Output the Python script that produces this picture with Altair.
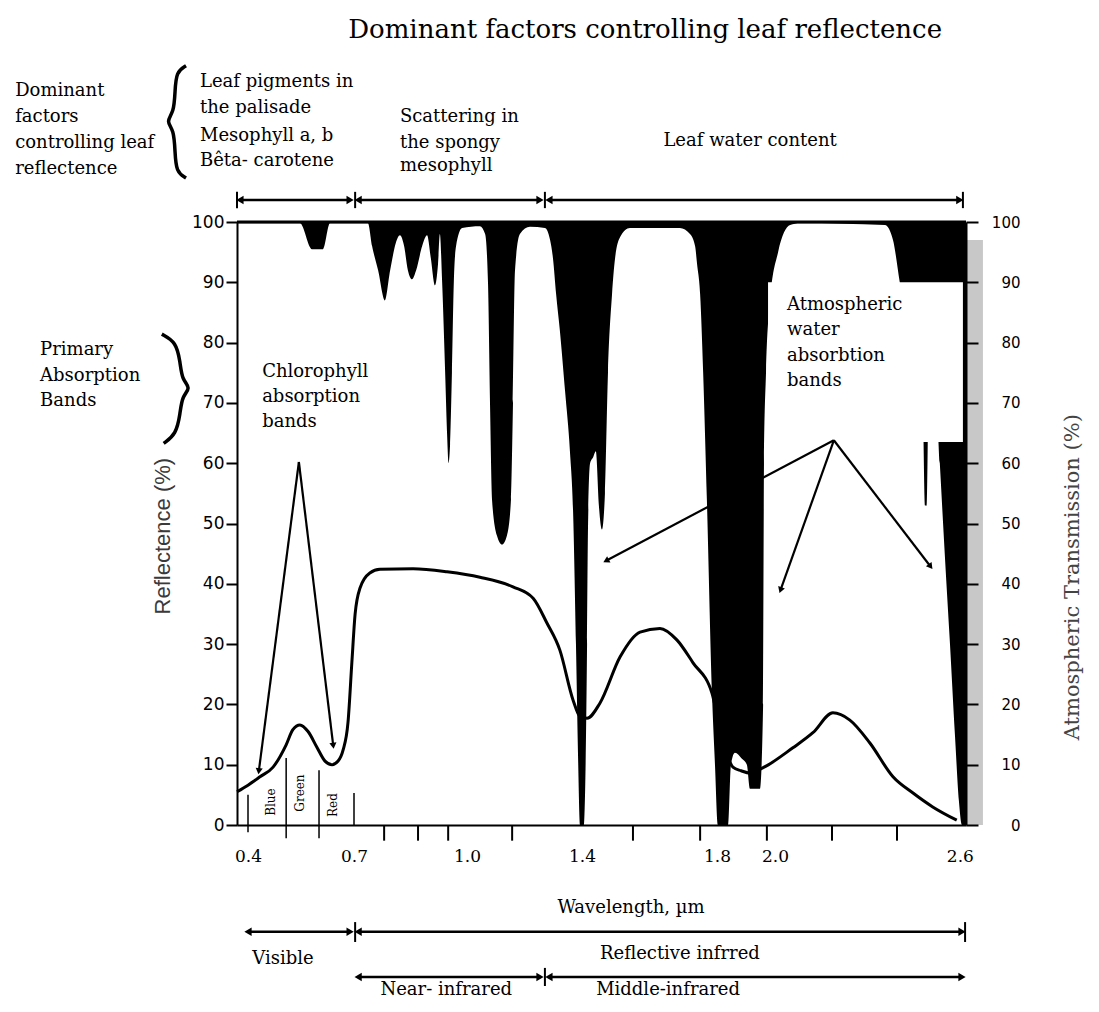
import altair as alt
import pandas as pd

# ---------------- data ----------------
# Leaf reflectance curve (wavelength in micrometres, reflectance in %)
leaf_wl = [0.37, 0.400, 0.434, 0.471, 0.508, 0.527, 0.547, 0.570, 0.595, 0.618,
           0.638, 0.655, 0.669, 0.683, 0.694, 0.703, 0.716, 0.742, 0.769, 0.857,
           0.947, 1.045, 1.160, 1.230, 1.278, 1.323, 1.369, 1.393, 1.415, 1.453,
           1.513, 1.572, 1.631, 1.681, 1.729, 1.785, 1.810, 1.855, 1.883, 1.914,
           1.959, 2.058, 2.123, 2.188, 2.243, 2.308, 2.383, 2.448, 2.512, 2.590]
leaf_refl = [5.5, 6.6, 8.0, 9.6, 13.3, 15.8, 16.6, 15.5, 12.9, 10.6,
             10.0, 10.6, 12.4, 17, 27, 35, 39.3, 41.8, 42.4, 42.5,
             42.0, 41.1, 39.5, 37.6, 33.5, 29, 20.7, 18, 17.7, 20.2,
             27.9, 32, 32.6, 30.7, 26.9, 21.9, 16, 9.6, 9, 8.6,
             9.5, 12.8, 15.3, 18.6, 17.4, 13.6, 8.0, 5.3, 3.0, 0.8]

# Atmospheric transmission (%) — black area is drawn from this curve up to 100 %
atm_wl = [0.370, 0.547, 0.581, 0.612, 0.632,
          0.737, 0.748, 0.764, 0.782, 0.796,
          0.811, 0.822, 0.833, 0.843, 0.854,
          0.865, 0.881, 0.894, 0.904, 0.915,
          0.923, 0.928, 0.934, 0.942, 0.947,
          0.951, 0.955, 0.960, 0.965, 0.971,
          0.987, 1.045, 1.063, 1.073, 1.080,
          1.087, 1.104, 1.122, 1.139, 1.153,
          1.160, 1.167, 1.184, 1.219, 1.271,
          1.289, 1.299, 1.310, 1.323, 1.341,
          1.358, 1.369, 1.379, 1.386, 1.393,
          1.406, 1.409, 1.415, 1.418, 1.424,
          1.433, 1.441, 1.450, 1.459, 1.468,
          1.477, 1.489, 1.498, 1.513, 1.542,
          1.690, 1.720, 1.735, 1.741, 1.750,
          1.759, 1.770, 1.785, 1.794, 1.803,
          1.838, 1.848, 1.862, 1.886, 1.903,
          1.914, 1.948, 1.959, 1.962, 1.969,
          1.983, 2.010, 2.049, 2.081, 2.357,
          2.383, 2.405, 2.438, 2.470, 2.480,
          2.487, 2.493, 2.500, 2.519, 2.535,
          2.551, 2.568, 2.584, 2.597, 2.607,
          2.620]
atm_T = [99.8, 99.8, 95.5, 95.5, 99.8,
         99.8, 96, 92, 87, 92,
         96.5, 97.8, 96, 92, 90.5,
         92, 96, 97.8, 94, 89.5,
         93, 98, 90, 75, 65,
         60, 63, 75, 90, 96,
         99, 99.3, 98, 90, 70,
         54, 48, 46.5, 48, 54,
         70, 92, 98, 99.2, 99,
         97, 94, 88, 82, 72,
         62, 52, 30, 12, 0,
         0, 5, 30, 50, 60,
         61, 62, 53, 49, 55,
         75, 88, 94, 97.5, 99,
         99, 98, 96, 93, 88,
         75, 54, 22, 10, 0,
         0, 10, 12, 11, 10,
         6, 6, 20, 60, 75,
         87, 95, 99.5, 99.8, 99.5,
         97, 90, 80, 80, 70,
         53, 53, 75, 75, 60,
         45, 30, 15, 4, 0,
         0]

x_tick_labels = [0.4, 0.7, 1.0, 1.4, 1.8, 2.0, 2.6]
x_minor_ticks = [0.78, 0.87, 0.95, 1.157, 1.551, 1.75, 1.972, 2.185, 2.396]
y_ticks = list(range(0, 101, 10))

# ---------------- scales & axes ----------------
SERIF = "DejaVu Serif"
SANS = "DejaVu Sans"

XS = alt.Scale(domain=[0.37, 0.4, 0.7, 1.0, 1.4, 1.8, 2.0, 2.62],
               range=[0, 11, 117, 230, 345, 480, 538, 729], nice=False, zero=False)
YS = alt.Scale(domain=[0, 100], nice=False, zero=False)

XAX = alt.Axis(values=x_tick_labels, format=".1f", ticks=False, tickSize=0, labelPadding=23,
               labelFont=SERIF, labelFontSize=17, labelColor="black", labelFlush=False,
               labelOverlap=False, domainColor="black", domainWidth=2, grid=False, title=None,
               zindex=1)
YLAX = alt.Axis(orient="left", values=y_ticks, tickSize=11, tickWidth=2, tickColor="black",
                labelFont=SANS, labelFontSize=17, labelColor="black", labelPadding=2,
                domainColor="black", domainWidth=2, grid=False, title=None, zindex=1)
YRAX = alt.Axis(orient="right", values=y_ticks, tickSize=12, tickWidth=2, tickColor="black",
                labelFont=SANS, labelFontSize=15, labelColor="black", labelAlign="right",
                labelPadding=42, domainColor="black", domainWidth=2, grid=False, title=None,
                zindex=1)


def xe(f):
    return alt.X(f"{f}:Q", scale=XS, axis=XAX, title=None)


def ye(f):
    return alt.Y(f"{f}:Q", scale=YS, axis=YRAX, title=None)


# ---------------- data tables ----------------
leaf_df = pd.DataFrame({"wl": leaf_wl, "refl": leaf_refl})
atm_df = pd.DataFrame({"wl": atm_wl, "T": atm_T})
atm_df["top"] = 100

# ---------------- annotation tables (data coordinates) ----------------
txt_left = pd.DataFrame([
    ("Dominant", -0.235, 121.7), ("factors", -0.235, 117.4),
    ("controlling leaf", -0.235, 113.1), ("reflectence", -0.235, 108.8),
    ("Leaf pigments in", 0.269, 123.2), ("the palisade", 0.269, 118.9),
    ("Mesophyll a, b", 0.269, 114.3), ("Bêta- carotene", 0.269, 110.1),
    ("Scattering in", 0.822, 117.4), ("the spongy", 0.822, 113.1), ("mesophyll", 0.822, 109.3),
    ("Primary", -0.167, 78.8), ("Absorption", -0.167, 74.5), ("Bands", -0.167, 70.3),
    ("Chlorophyll", 0.440, 75.1), ("absorption", 0.440, 71.0), ("bands", 0.440, 66.8),
    ("Atmospheric", 2.039, 86.2), ("water", 2.039, 82.1), ("absorbtion", 2.039, 77.8),
    ("bands", 2.039, 73.6),
], columns=["txt", "wl", "pct"])

txt_center = pd.DataFrame([
    ("Dominant factors controlling leaf reflectence", 1.587, 131.8, 26),
    ("Leaf water content", 1.914, 113.4, 18),
    ("Wavelength, µm", 1.545, -13.8, 18),
    ("Visible", 0.499, -22.2, 18),
    ("Reflective infrred", 1.690, -21.4, 18),
    ("Near- infrared", 0.945, -27.4, 18),
    ("Middle-infrared", 1.655, -27.4, 18),
], columns=["txt", "wl", "pct", "sz"])

txt_bands = pd.DataFrame([("Blue", 0.465, 3.8), ("Green", 0.547, 5.3), ("Red", 0.641, 3.3)],
                         columns=["txt", "wl", "pct"])

band_lines = pd.DataFrame([(0.400, 5.0, -1.2), (0.508, 11.1, -2.2), (0.601, 9.1, -2.2),
                           (0.700, 5.3, 0.0)], columns=["wl", "p1", "p2"])
minor_df = pd.DataFrame({"wl": x_minor_ticks, "p1": 0.0, "p2": -2.6})

bars = pd.DataFrame([(0.370, 105.0, 102.3), (0.703, 105.0, 102.3), (1.271, 105.0, 102.3),
                     (2.610, 105.0, 102.3), (0.703, -16.1, -19.4), (2.617, -16.1, -19.4),
                     (1.271, -23.7, -26.7)], columns=["wl", "p1", "p2"])

h_arrows = [("t1", 0.378, 0.689, 103.65), ("t2", 0.711, 1.254, 103.65), ("t3", 1.285, 2.600, 103.65),
            ("b1", 0.400, 0.689, -17.7), ("b2", 0.711, 2.607, -17.7),
            ("c1", 0.711, 1.254, -25.2), ("c2", 1.285, 2.607, -25.2)]
d_arrows = [("ch1", 0.544, 60.2, 0.431, 9.1, 187.4), ("ch2", 0.544, 60.2, 0.641, 13.3, 173.2),
            ("a1", 2.191, 63.8, 1.474, 43.9, 242.2), ("a2", 2.191, 63.8, 2.019, 39.1, 199.6),
            ("a3", 2.191, 63.8, 2.503, 43.0, 142.7)]

seg_rows, head_rows = [], []
for k, a, b, p in h_arrows:
    seg_rows += [(k, a, p, 0, 2.5), (k, b, p, 1, 2.5)]
    head_rows += [(a, p, "triangle-left", 0, 70), (b, p, "triangle-right", 0, 70)]
for k, a, p, b, q, ang in d_arrows:
    seg_rows += [(k, a, p, 0, 2.2), (k, b, q, 1, 2.2)]
    head_rows += [(b, q, "triangle", ang, 50)]
seg_df = pd.DataFrame(seg_rows, columns=["id", "wl", "pct", "o", "w"])
head_df = pd.DataFrame(head_rows, columns=["wl", "pct", "shp", "ang", "sz"])

brace_df = pd.DataFrame([
    ("b1", 0, 0.231, 125.9), ("b1", 1, 0.204, 124.9), ("b1", 2, 0.201, 121.6),
    ("b1", 3, 0.198, 118.2), ("b1", 4, 0.176, 116.7), ("b1", 5, 0.198, 115.3),
    ("b1", 6, 0.201, 111.6), ("b1", 7, 0.204, 108.3), ("b1", 8, 0.231, 107.3),
    ("b2", 0, 0.165, 81.4), ("b2", 1, 0.204, 80.1), ("b2", 2, 0.215, 76.8),
    ("b2", 3, 0.220, 73.8), ("b2", 4, 0.245, 72.5), ("b2", 5, 0.220, 71.1),
    ("b2", 6, 0.215, 68.2), ("b2", 7, 0.204, 64.8), ("b2", 8, 0.170, 63.3),
], columns=["id", "o", "wl", "pct"])

box_df = pd.DataFrame([(1.976, 2.610, 63.5, 90.0)], columns=["x1", "x2", "p1", "p2"])
shade_df = pd.DataFrame([(2.620, 2.675, 0.0, 97.0)], columns=["x1", "x2", "p1", "p2"])
top_df = pd.DataFrame([(0.37, 2.62, 100.0)], columns=["x1", "x2", "pct"])

rot_df = pd.DataFrame([("Reflectence (%)", 0.168, 47.9)], columns=["txt", "wl", "pct"])
rot_df2 = pd.DataFrame([("Atmospheric Transmission (%)", 2.968, 41.1)], columns=["txt", "wl", "pct"])

# ---------------- layers ----------------
leaf = alt.Chart(leaf_df).mark_line(color="black", strokeWidth=3, interpolate="monotone").encode(
    x=xe("wl"), y=alt.Y("refl:Q", scale=YS, axis=YLAX, title=None))

shade = alt.Chart(shade_df).mark_rect(fill="#c8c8c8").encode(
    x=xe("x1"), x2=alt.X2("x2:Q"), y=ye("p1"), y2=alt.Y2("p2:Q"))

area = alt.Chart(atm_df).mark_area(color="black", interpolate="monotone").encode(
    x=xe("wl"), y=ye("T"), y2=alt.Y2("top:Q"))

top_rule = alt.Chart(top_df).mark_rule(color="black", strokeWidth=3).encode(
    x=xe("x1"), x2=alt.X2("x2:Q"), y=ye("pct"))

box = alt.Chart(box_df).mark_rect(fill="white").encode(
    x=xe("x1"), x2=alt.X2("x2:Q"), y=ye("p1"), y2=alt.Y2("p2:Q"))

t_left = alt.Chart(txt_left).mark_text(align="left", baseline="middle", font=SERIF,
                                       fontSize=18, color="black").encode(
    x=xe("wl"), y=ye("pct"), text="txt:N")

t_center = alt.Chart(txt_center).mark_text(align="center", baseline="middle", font=SERIF,
                                           color="black").encode(
    x=xe("wl"), y=ye("pct"), text="txt:N", size=alt.Size("sz:Q", scale=None))

t_bands = alt.Chart(txt_bands).mark_text(align="center", baseline="middle", font=SERIF,
                                         fontSize=12, angle=270, color="black").encode(
    x=xe("wl"), y=ye("pct"), text="txt:N")

t_rot1 = alt.Chart(rot_df).mark_text(align="center", baseline="middle", font="Liberation Sans",
                                     fontSize=22, angle=270, color="#3a3a3a").encode(
    x=xe("wl"), y=ye("pct"), text="txt:N")
t_rot2 = alt.Chart(rot_df2).mark_text(align="center", baseline="middle", font=SERIF,
                                      fontSize=21, angle=270, color="#444444").encode(
    x=xe("wl"), y=ye("pct"), text="txt:N")

r_bands = alt.Chart(band_lines).mark_rule(color="black", strokeWidth=1.5).encode(
    x=xe("wl"), y=ye("p1"), y2=alt.Y2("p2:Q"))
r_minor = alt.Chart(minor_df).mark_rule(color="black", strokeWidth=2).encode(
    x=xe("wl"), y=ye("p1"), y2=alt.Y2("p2:Q"))
r_bars = alt.Chart(bars).mark_rule(color="black", strokeWidth=2).encode(
    x=xe("wl"), y=ye("p1"), y2=alt.Y2("p2:Q"))

segs = alt.Chart(seg_df).mark_line(color="black").encode(
    x=xe("wl"), y=ye("pct"), detail="id:N", order="o:Q",
    strokeWidth=alt.StrokeWidth("w:Q", scale=None))
heads = alt.Chart(head_df).mark_point(filled=True, color="black", opacity=1).encode(
    x=xe("wl"), y=ye("pct"), shape=alt.Shape("shp:N", scale=None),
    angle=alt.Angle("ang:Q", scale=None), size=alt.Size("sz:Q", scale=None))

braces = alt.Chart(brace_df).mark_line(color="black", strokeWidth=3.5, interpolate="basis").encode(
    x=xe("wl"), y=ye("pct"), detail="id:N", order="o:Q")

g1 = alt.layer(leaf)
g2 = alt.layer(shade, area, top_rule, box, r_bands, r_minor, r_bars, segs, heads, braces,
               t_left, t_center, t_bands, t_rot1, t_rot2)

chart = alt.layer(g1, g2).resolve_scale(y="independent").properties(
    width=729, height=603,
    autosize=alt.AutoSizeParams(type="none"),
    padding={"left": 229, "top": 214, "right": 125, "bottom": 176},
).configure_view(stroke=None).configure(background="white")

chart.save("out.html", embed_options={"renderer": "svg", "actions": False})
